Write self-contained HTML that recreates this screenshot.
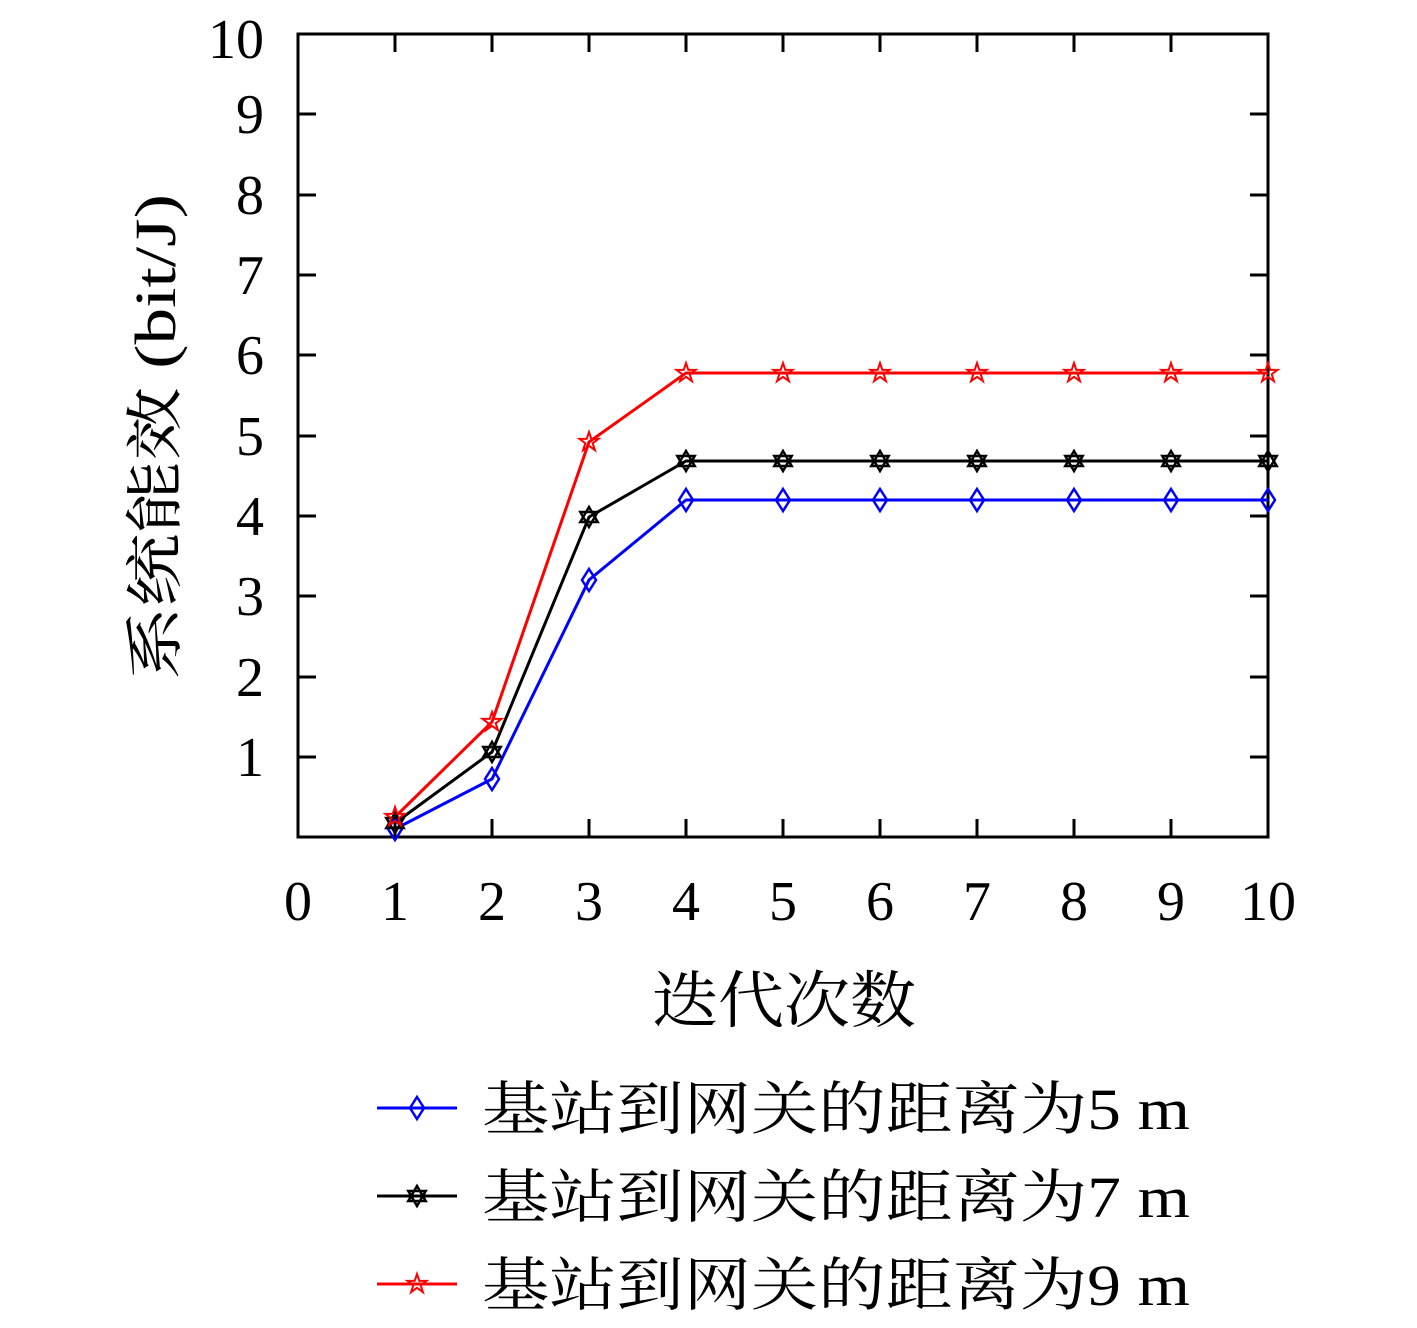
<!DOCTYPE html>
<html><head><meta charset="utf-8"><style>body{margin:0;background:#fff}</style></head><body>
<svg width="1417" height="1323" xmlns="http://www.w3.org/2000/svg" font-family="Liberation Serif, Noto Serif CJK SC, serif">
<defs>
<path id="dm" d="M0,-11 L7,0 L0,11 L-7,0 Z" fill="none" stroke="#00f" stroke-width="2.5"/>
<g id="hx" fill="none" stroke="#000" stroke-width="2.5"><path d="M0,-10 L8.7,5 L-8.7,5 Z"/><path d="M0,10 L8.7,-5 L-8.7,-5 Z"/></g>
<path id="st" d="M0,-10 L2.3,-3.1 L9.5,-3.1 L3.7,1.2 L5.9,8.1 L0,3.8 L-5.9,8.1 L-3.7,1.2 L-9.5,-3.1 L-2.3,-3.1 Z" fill="none" stroke="#f00" stroke-width="2"/>
</defs>
<rect x="298" y="34" width="970" height="803" fill="none" stroke="#000" stroke-width="3"/>
<g stroke="#000" stroke-width="3">
<path d="M298,757h18M298,677h18M298,596h18M298,516h18M298,436h18M298,355h18M298,275h18M298,195h18M298,114h18"/>
<path d="M1268,757h-18M1268,677h-18M1268,596h-18M1268,516h-18M1268,436h-18M1268,355h-18M1268,275h-18M1268,195h-18M1268,114h-18"/>
<path d="M395,837v-18M492,837v-18M589,837v-18M686,837v-18M783,837v-18M880,837v-18M977,837v-18M1074,837v-18M1171,837v-18"/>
<path d="M395,34v18M492,34v18M589,34v18M686,34v18M783,34v18M880,34v18M977,34v18M1074,34v18M1171,34v18"/>
</g>
<g font-size="56" text-anchor="end">
<text x="264" y="776">1</text><text x="264" y="696">2</text><text x="264" y="615">3</text><text x="264" y="535">4</text><text x="264" y="455">5</text><text x="264" y="374">6</text><text x="264" y="294">7</text><text x="264" y="214">8</text><text x="264" y="133">9</text><text x="264" y="58">10</text>
</g>
<g font-size="56" text-anchor="middle">
<text x="298" y="920">0</text><text x="395" y="920">1</text><text x="492" y="920">2</text><text x="589" y="920">3</text><text x="686" y="920">4</text><text x="783" y="920">5</text><text x="880" y="920">6</text><text x="977" y="920">7</text><text x="1074" y="920">8</text><text x="1171" y="920">9</text><text x="1268" y="920">10</text>
</g>
<text x="652" y="1022" font-size="62" textLength="264" lengthAdjust="spacingAndGlyphs">迭代次数</text>
<text transform="translate(175,680) rotate(-90)" font-size="58" textLength="486" lengthAdjust="spacingAndGlyphs">系统能效 (bit/J)</text>
<polyline fill="none" stroke="#00f" stroke-width="3" points="395,829 492,779 589,580 686,500 783,500 880,500 977,500 1074,500 1171,500 1268,500"/>
<polyline fill="none" stroke="#000" stroke-width="3" points="395,823 492,752 589,517 686,461 783,461 880,461 977,461 1074,461 1171,461 1268,461"/>
<polyline fill="none" stroke="#f00" stroke-width="3" points="395,817 492,722 589,442 686,373 783,373 880,373 977,373 1074,373 1171,373 1268,373"/>
<g><use href="#dm" x="395" y="829"/><use href="#dm" x="492" y="779"/><use href="#dm" x="589" y="580"/><use href="#dm" x="686" y="500"/><use href="#dm" x="783" y="500"/><use href="#dm" x="880" y="500"/><use href="#dm" x="977" y="500"/><use href="#dm" x="1074" y="500"/><use href="#dm" x="1171" y="500"/><use href="#dm" x="1268" y="500"/></g>
<g><use href="#hx" x="395" y="823"/><use href="#hx" x="492" y="752"/><use href="#hx" x="589" y="517"/><use href="#hx" x="686" y="461"/><use href="#hx" x="783" y="461"/><use href="#hx" x="880" y="461"/><use href="#hx" x="977" y="461"/><use href="#hx" x="1074" y="461"/><use href="#hx" x="1171" y="461"/><use href="#hx" x="1268" y="461"/></g>
<g><use href="#st" x="395" y="817"/><use href="#st" x="492" y="722"/><use href="#st" x="589" y="442"/><use href="#st" x="686" y="373"/><use href="#st" x="783" y="373"/><use href="#st" x="880" y="373"/><use href="#st" x="977" y="373"/><use href="#st" x="1074" y="373"/><use href="#st" x="1171" y="373"/><use href="#st" x="1268" y="373"/></g>
<line x1="377" y1="1108" x2="457" y2="1108" stroke="#00f" stroke-width="3"/><use href="#dm" x="417" y="1108"/>
<line x1="377" y1="1196" x2="457" y2="1196" stroke="#000" stroke-width="3"/><use href="#hx" x="417" y="1196"/>
<line x1="377" y1="1284" x2="457" y2="1284" stroke="#f00" stroke-width="3"/><use href="#st" x="417" y="1284"/>
<g font-size="58">
<text x="482" y="1129" textLength="708" lengthAdjust="spacingAndGlyphs">基站到网关的距离为5 m</text>
<text x="482" y="1217" textLength="708" lengthAdjust="spacingAndGlyphs">基站到网关的距离为7 m</text>
<text x="482" y="1305" textLength="708" lengthAdjust="spacingAndGlyphs">基站到网关的距离为9 m</text>
</g>
</svg>
</body></html>
